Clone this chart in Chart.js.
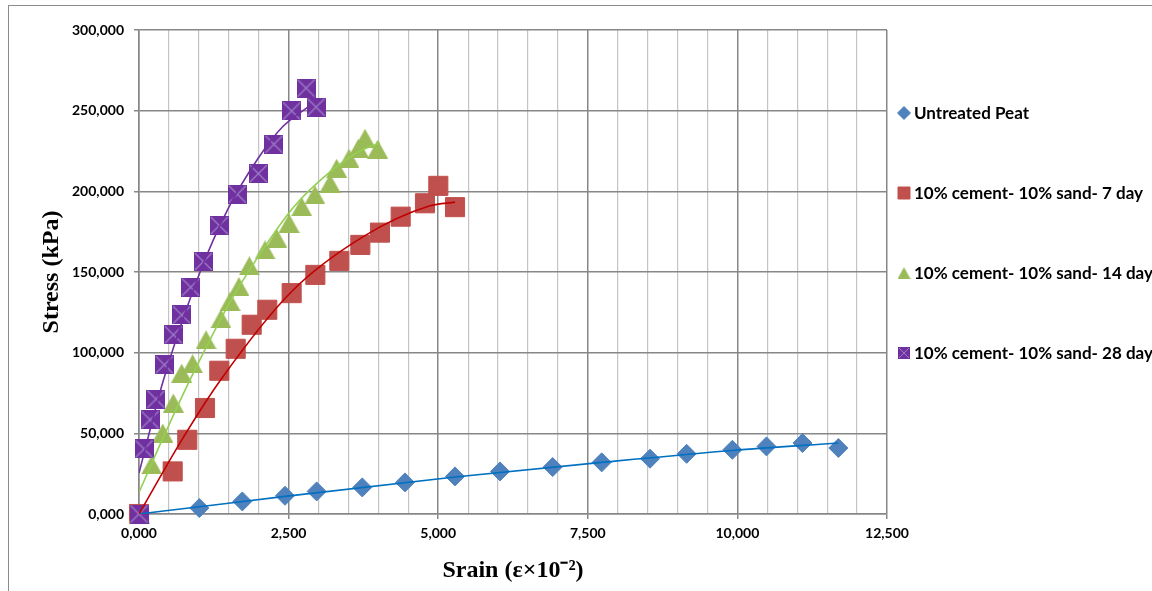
<!DOCTYPE html>
<html>
<head>
<meta charset="utf-8">
<script src="https://cdn.jsdelivr.net/npm/chart.js@4.4.1/dist/chart.umd.min.js"></script>
<style>
  html, body { margin: 0; padding: 0; background: #fff; overflow: hidden; }
  #wrap { position: relative; width: 1152px; height: 591px; }
  #frame { position: absolute; left: 8px; top: 5px; width: 1300px; height: 800px;
           border-left: 1px solid #8c8c8c; border-top: 1px solid #8c8c8c; }
  canvas { position: absolute; left: 0; top: 0; }
</style>
</head>
<body>
<div id="wrap">
  <div id="frame"></div>
  <canvas id="c" width="1152" height="591"></canvas>
</div>
<script>
// ---------------- data ----------------
const seriesNames = ['Untreated Peat', '10% cement- 10% sand- 7 day', '10% cement- 10% sand- 14 day', '10% cement- 10% sand- 28 day'];

const xTickLabels = ['0,000', '2,500', '5,000', '7,500', '10,000', '12,500'];
const yTickLabels = ['0,000', '50,000', '100,000', '150,000', '200,000', '250,000', '300,000'];

const peatStrain = [0, 1008, 1727, 2440, 2969, 3731, 4445, 5281, 6033, 6913, 7732, 8540, 9152, 9916, 10486, 11087, 11687];
const peatStress = [0, 3700, 7800, 11300, 14000, 16500, 19600, 23300, 26400, 29100, 32000, 34300, 37300, 39800, 41900, 44000, 40900];

const day7Strain = [0, 563, 807, 1103, 1342, 1616, 1883, 2144, 2551, 2947, 3348, 3699, 4027, 4373, 4779, 5002, 5281];
const day7Stress = [0, 26400, 46000, 65700, 88800, 102400, 117300, 126600, 136900, 148200, 156900, 166800, 174400, 184300, 192600, 203400, 190200];

const day14Strain = [0, 212, 396, 574, 713, 896, 1120, 1370, 1521, 1671, 1844, 2106, 2301, 2507, 2719, 2941, 3192, 3303, 3509, 3665, 3777, 3988];
const day14Stress = [0, 30500, 50200, 68800, 87300, 93100, 108000, 121000, 131700, 141000, 153800, 163700, 171000, 180200, 190500, 197800, 205000, 214300, 220500, 226700, 232900, 226100];

const day28Strain = [0, 84, 184, 284, 423, 574, 713, 863, 1075, 1342, 1643, 1994, 2256, 2551, 2791, 2958];
const day28Stress = [0, 40300, 58400, 71200, 92500, 111100, 123400, 140600, 156500, 178800, 198200, 211000, 229200, 249800, 264000, 252200];

// trendlines
const peatTrendX = [0, 1008, 2440, 5281, 7732, 9916, 11687];
const peatTrendY = [0, 4500, 10900, 22900, 32000, 39400, 44000];
const day7TrendX = [0, 741, 1381, 2551, 3748, 4863, 5281];
const day7TrendY = [0, 47500, 84000, 137900, 171900, 191000, 193300];
const day14TrendX = [0, 400, 850, 1500, 2000, 2579, 3192, 3693, 4027];
const day14TrendY = [13400, 47000, 83000, 130000, 160000, 190000, 212000, 225000, 230000];
const day28TrendX = [0, 400, 1000, 1500, 2000, 2400, 2850];
const day28TrendY = [25400, 82000, 148000, 190000, 221000, 240000, 253000];

// ---------------- helpers ----------------
const pts = (xs, ys) => xs.map((x, i) => ({ x: x, y: ys[i] }));

function xSquare(size, fill, line) {
  const c = document.createElement('canvas');
  c.width = size; c.height = size;
  const g = c.getContext('2d');
  g.fillStyle = fill; g.fillRect(0, 0, size, size);
  g.strokeStyle = line; g.lineWidth = Math.max(1, size / 14);
  g.beginPath();
  g.moveTo(1, 1); g.lineTo(size - 1, size - 1);
  g.moveTo(size - 1, 1); g.lineTo(1, size - 1);
  g.stroke();
  return c;
}
function triangle(w, h, fill) {
  const c = document.createElement('canvas');
  c.width = w; c.height = h;
  const g = c.getContext('2d');
  g.fillStyle = fill;
  g.beginPath();
  g.moveTo(w / 2, 0); g.lineTo(w, h); g.lineTo(0, h); g.closePath();
  g.fill();
  return c;
}

const BLUE = '#4F81BD', RED = '#C0504D', GREEN = '#9BBB59', PURPLE = '#7030A0';
const BLUE_T = '#0070C0', RED_T = '#C00000', GREEN_T = '#92D050', PURPLE_T = '#7030A0';
const MAJOR = '#878787', MINOR = '#c4c4c4';

const purpleMarker = xSquare(19, PURPLE, '#9a7cc4');
const greenMarker = triangle(21, 19, GREEN);
const purpleLegend = xSquare(12, PURPLE, '#9a7cc4');
const greenLegend = triangle(13, 12, GREEN);

const markerBase = { showLine: false, clip: false };
const trendBase = { showLine: true, pointRadius: 0, borderWidth: 1.6, cubicInterpolationMode: 'monotone', fill: false, order: 0 };

const legendPlugin = {
  id: 'sideLegend',
  afterDraw(chart) {
    const ctx = chart.ctx;
    const area = chart.chartArea;
    const x0 = area.right + 17;
    const styles = [
      { type: 'rectRot', color: BLUE, r: 6.5 },
      { type: 'rect', color: RED, r: 8.5 },
      { type: 'img', img: greenLegend },
      { type: 'img', img: purpleLegend }
    ];
    ctx.save();
    ctx.font = 'bold 17px Lato';
    ctx.textBaseline = 'middle';
    ctx.textAlign = 'left';
    styles.forEach((s, i) => {
      const y = area.top + 83 + i * 80;
      if (s.type === 'img') {
        ctx.drawImage(s.img, x0 - s.img.width / 2, y - s.img.height / 2);
      } else {
        ctx.fillStyle = s.color; ctx.strokeStyle = s.color;
        Chart.helpers.drawPoint(ctx, { pointStyle: s.type, radius: s.r, rotation: 0, borderWidth: 1 }, x0, y);
      }
      ctx.fillStyle = '#000';
      ctx.fillText(seriesNames[i], x0 + 10, y + 1);
    });
    ctx.restore();
  }
};

const tickFont = { family: 'Lato', weight: 'bold', size: 14 };
const titleFont = { family: "'Liberation Serif', 'Times New Roman', serif", weight: 'bold', size: 24 };

new Chart(document.getElementById('c'), {
  type: 'scatter',
  data: {
    datasets: [
      Object.assign({}, trendBase, { label: 'trend28', data: pts(day28TrendX, day28TrendY), borderColor: PURPLE_T }),
      Object.assign({}, trendBase, { label: 'trend14', data: pts(day14TrendX, day14TrendY), borderColor: GREEN_T }),
      Object.assign({}, trendBase, { label: 'trend7', data: pts(day7TrendX, day7TrendY), borderColor: RED_T }),
      Object.assign({}, trendBase, { label: 'trendPeat', data: pts(peatTrendX, peatTrendY), borderColor: BLUE_T }),
      Object.assign({}, markerBase, { label: seriesNames[3], data: pts(day28Strain, day28Stress), pointStyle: purpleMarker, pointRadius: 10, order: 1 }),
      Object.assign({}, markerBase, { label: seriesNames[2], data: pts(day14Strain, day14Stress), pointStyle: greenMarker, pointRadius: 10, order: 2 }),
      Object.assign({}, markerBase, { label: seriesNames[1], data: pts(day7Strain, day7Stress), pointStyle: 'rect', pointRadius: 13.5, backgroundColor: RED, borderColor: RED, borderWidth: 1, order: 3 }),
      Object.assign({}, markerBase, { label: seriesNames[0], data: pts(peatStrain, peatStress), pointStyle: 'rectRot', pointRadius: 9.5, backgroundColor: BLUE, borderColor: BLUE, borderWidth: 1, order: 4 })
    ]
  },
  options: {
    responsive: false,
    animation: false,
    devicePixelRatio: 1,
    layout: { padding: { left: 0, top: 30, right: 265, bottom: 0 } },
    plugins: { legend: { display: false }, tooltip: { enabled: false } },
    scales: {
      x: {
        type: 'linear', min: 0, max: 12500,
        afterFit(s) { s.height = 77; },
        ticks: {
          stepSize: 500, autoSkip: false, maxRotation: 0, minRotation: 0,
          padding: 6, color: '#000', font: tickFont,
          callback: v => (v % 2500 === 0 ? xTickLabels[v / 2500] : '')
        },
        grid: {
          color: c => (c.tick && c.tick.value % 2500 === 0 ? MAJOR : MINOR),
          lineWidth: c => (c.tick && c.tick.value % 2500 === 0 ? 1.5 : 1.2),
          tickLength: 5,
          tickColor: c => (c.tick && c.tick.value % 2500 === 0 ? MAJOR : 'rgba(0,0,0,0)'),
          tickWidth: 1.5
        },
        border: { display: true, color: MAJOR, width: 1.5 },
        title: { display: true, text: 'Srain (ε×10⁻²)', color: '#000', font: titleFont, padding: { top: 0, bottom: 6 } }
      },
      y: {
        type: 'linear', min: 0, max: 300000,
        afterFit(s) { s.width = 139; },
        ticks: {
          stepSize: 50000, color: '#000', font: tickFont, padding: 10,
          callback: v => yTickLabels[Math.round(v / 50000)]
        },
        grid: { color: MAJOR, lineWidth: 1.5, tickLength: 5, tickColor: MAJOR, tickWidth: 1.5 },
        border: { display: true, color: MAJOR, width: 1.5 },
        title: { display: true, text: 'Stress (kPa)', color: '#000', font: titleFont, padding: { top: 37, bottom: 0 } }
      }
    }
  },
  plugins: [legendPlugin]
});
</script>
</body>
</html>
